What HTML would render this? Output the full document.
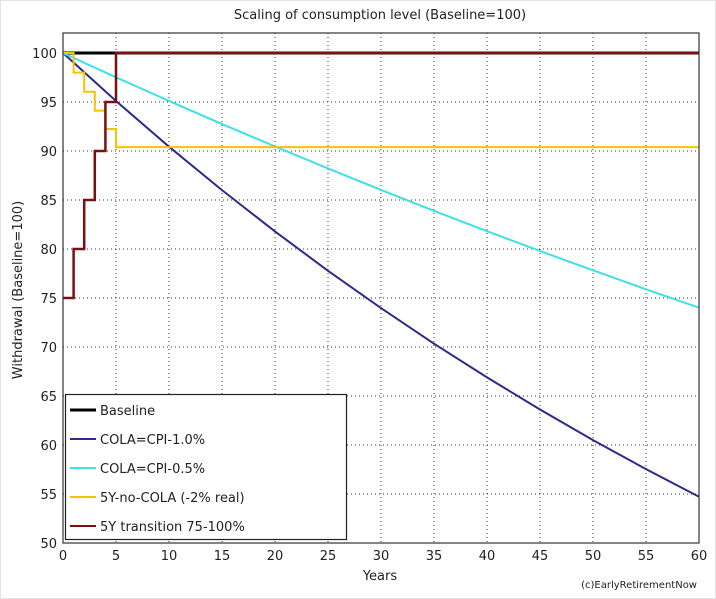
<!DOCTYPE html>
<html><head><meta charset="utf-8"><style>
body{margin:0;background:#fff;}
svg{display:block;font-family:"DejaVu Sans","Liberation Sans",sans-serif;}
</style></head><body>
<svg id="chart" width="716" height="599">
<rect x="0.5" y="0.5" width="715" height="598" fill="#fff" stroke="#e4e4e4"/>
<text x="380" y="19" font-size="13" text-anchor="middle" fill="#222">Scaling of consumption level (Baseline=100)</text>
<text x="380" y="580" font-size="13" text-anchor="middle" fill="#222">Years</text>
<text transform="translate(22,290) rotate(-90)" font-size="13" text-anchor="middle" fill="#222">Withdrawal (Baseline=100)</text>
<text x="697" y="588" font-size="10" text-anchor="end" fill="#222">(c)EarlyRetirementNow</text>
<g id="grid"></g><g id="series"></g><g id="axes"></g>
</svg>
<script>
const xTicks=[0,5,10,15,20,25,30,35,40,45,50,55,60];
const yTicks=[50,55,60,65,70,75,80,85,90,95,100];
const smoothYears=[0,5,10,15,20,25,30,35,40,45,50,55,60];
const cola10=[100,95.10,90.44,86.01,81.79,77.78,73.97,70.34,66.90,63.62,60.50,57.54,54.72];
const cola05=[100,97.52,95.11,92.75,90.46,88.22,86.03,83.90,81.82,79.80,77.82,75.89,74.01];
const baselineYears=[0,60];
const baseline=[100,100];
const stepYears=[0,1,2,3,4,5,60];
const noCola=[100,98,96.04,94.12,92.24,90.39,90.39];
const transition=[75,80,85,90,95,100,100];
const seriesNames=["Baseline","COLA=CPI-1.0%","COLA=CPI-0.5%","5Y-no-COLA (-2% real)","5Y transition 75-100%"];
const seriesColors=["#000","#2b2b8c","#3ee0e8","#f5c400","#7a1010"];

const L=63,R=699,T=33,B=543;
const x=t=>L+(t-0)/60*(R-L);
const y=v=>B-(v-50)/(102.2-50)*(B-T)*1; 
const yy=v=>543-(v-50)*9.8;
const NS="http://www.w3.org/2000/svg";
function mk(tag,attrs,parent){const e=document.createElementNS(NS,tag);for(const k in attrs)e.setAttribute(k,attrs[k]);parent.appendChild(e);return e;}
const grid=document.getElementById('grid'),axes=document.getElementById('axes'),ser=document.getElementById('series');
xTicks.forEach(t=>{
 if(t>0&&t<60){const g=mk('line',{x1:x(t),x2:x(t),y1:T,y2:B,stroke:'#333','stroke-width':1,'stroke-dasharray':'1,3'},grid);
 
 }
 const l=mk('text',{x:x(t),y:B+17,'font-size':13,'text-anchor':'middle',fill:'#222'},axes);l.textContent=t;
 
 
});
yTicks.forEach(v=>{
 if(v>50){const g=mk('line',{x1:L,x2:R,y1:yy(v),y2:yy(v),stroke:'#333','stroke-width':1,'stroke-dasharray':'1,3'},grid);
 
 }
 const l=mk('text',{x:L-6,y:yy(v)+5,'font-size':13,'text-anchor':'end',fill:'#222'},axes);l.textContent=v;
 
 
});
function line(xs,vs,color,w,name,step){
 let d='';xs.forEach((t,i)=>{
  if(i==0)d+=`M${x(t)},${yy(vs[i])}`;
  else if(step)d+=`L${x(t)},${yy(vs[i-1])}L${x(t)},${yy(vs[i])}`;
  else d+=`L${x(t)},${yy(vs[i])}`;});
 const p=mk('path',{d:d,fill:'none',stroke:color,'stroke-width':w},ser);
 
 
}
line(baselineYears,baseline,seriesColors[0],3,'baseline-line',false);
line(smoothYears,cola10,seriesColors[1],2,'cola-1-line',false);
line(smoothYears,cola05,seriesColors[2],2,'cola-05-line',false);
line(stepYears,noCola,seriesColors[3],2,'no-cola-line',true);
line(stepYears,transition,seriesColors[4],2.5,'transition-line',true);
const fr=mk('rect',{x:L,y:T,width:R-L,height:B-T,fill:'none',stroke:'#333','stroke-width':1.2},axes);


const lg=mk('g',{},axes);


mk('rect',{x:65.5,y:394.5,width:281,height:145,fill:'#fff',stroke:'#222','stroke-width':1.2},lg);
seriesNames.forEach((n,i)=>{
 const cy=410+i*29;
 const e=mk('g',{},lg);
 
 
 mk('line',{x1:70,x2:96,y1:cy,y2:cy,stroke:seriesColors[i],'stroke-width':i==0?3:2},e);
 const t=mk('text',{x:100,y:cy+5,'font-size':13,fill:'#222'},e);t.textContent=n;
});
</script>
</body></html>
